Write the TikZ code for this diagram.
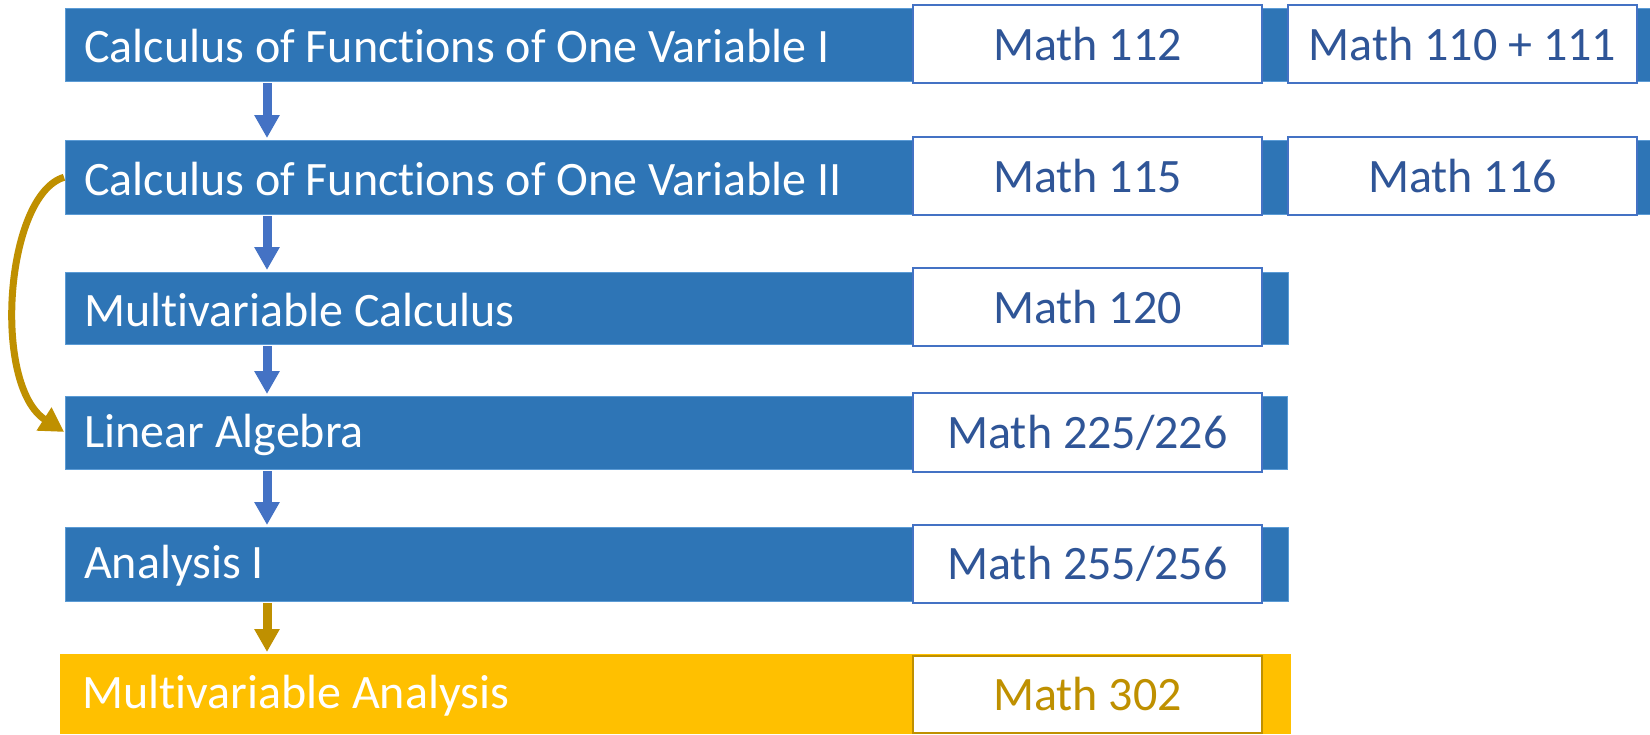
\documentclass[tikz,border=0pt]{standalone}
\usepackage{fontspec}
\setmainfont[Ligatures={NoCommon}]{Carlito}
\usetikzlibrary{arrows.meta,calc}
\definecolor{barblue}{HTML}{2E75B6}
\definecolor{baredge}{HTML}{5B9BD5}
\definecolor{boxblue}{HTML}{4472C4}
\definecolor{textblue}{HTML}{2F5597}
\definecolor{goldc}{HTML}{BF9000}
\definecolor{yellowc}{HTML}{FFC000}
\tikzset{
  bar/.style={fill=barblue, draw=baredge, line width=0.8pt, anchor=north west, inner sep=0pt, outer sep=0pt},
  ybar/.style={fill=yellowc, draw=none, anchor=north west, inner sep=0pt, outer sep=0pt},
  bartext/.style={anchor=west, inner sep=0pt, text=white, yshift=-2pt, font=\fontsize{48}{58}\selectfont},
  mathbox/.style={fill=white, draw=boxblue, line width=2.5pt, anchor=north west, inner sep=0pt, outer sep=0pt,
    minimum width=349pt, text=textblue, font=\fontsize{48}{58}\selectfont},
  goldbox/.style={mathbox, draw=goldc, text=goldc},
  downarrow/.style={draw=boxblue, line width=9pt, -{Triangle[width=24pt,length=23pt]}, shorten <=2pt, shorten >=2pt},
  goldarrow/.style={downarrow, draw=goldc, fill=goldc},
  curvearrow/.style={draw=goldc, line width=7pt, -{Triangle[width=26pt,length=24pt]}, shorten <=1pt, shorten >=1pt}
}
\begin{document}
\begin{tikzpicture}[x=1pt,y=-1pt]
\useasboundingbox (0,0) rectangle (1650,734);
% bars
\node[bar, minimum width=1585pt, minimum height=73pt] (b1) at (65,8) {};
\node[bar, minimum width=1585pt, minimum height=74pt] (b2) at (65,140) {};
\node[bar, minimum width=1223pt, minimum height=72pt] (b3) at (65,272) {};
\node[bar, minimum width=1222pt, minimum height=73pt] (b4) at (65,396) {};
\node[bar, minimum width=1223pt, minimum height=74pt] (b5) at (65,527) {};
\node[ybar, minimum width=1231pt, minimum height=80pt] (b6) at (60,654) {};
% bar texts
\node[bartext] (t1) at ([xshift=19pt]b1.west) {Calculus of Functions of One Variable I};
\node[bartext] (t2) at ([xshift=19pt]b2.west) {Calculus of Functions of One Variable II};
\node[bartext] (t3) at ([xshift=19pt]b3.west) {Multivariable Calculus};
\node[bartext] (t4) at ([xshift=19pt]b4.west) {Linear Algebra};
\node[bartext] (t5) at ([xshift=19pt]b5.west) {Analysis I};
\node[bartext] (t6) at ([xshift=22pt]b6.west) {Multivariable Analysis};
% course boxes
\node[mathbox, minimum height=78pt] (m1) at (913,5) {\raisebox{-2pt}{Math 112}};
\node[mathbox, minimum height=78pt] (m1b) at (1288,5) {\raisebox{-2pt}{Math 110 + 111}};
\node[mathbox, minimum height=78pt] (m2) at (913,137) {\raisebox{-2pt}{Math 115}};
\node[mathbox, minimum height=78pt] (m2b) at (1288,137) {\raisebox{-2pt}{Math 116}};
\node[mathbox, minimum height=78pt] (m3) at (913,268) {\raisebox{-2pt}{Math 120}};
\node[mathbox, minimum height=79pt] (m4) at (913,393) {\raisebox{-2pt}{Math 225/226}};
\node[mathbox, minimum height=78pt] (m5) at (913,525) {\raisebox{-2pt}{Math 255/256}};
\node[goldbox, minimum height=77pt] (m6) at (913,656) {\raisebox{-2pt}{Math 302}};
% arrows
\coordinate (ax) at (267,0);
\draw[downarrow] (ax |- b1.south) -- (ax |- b2.north);
\draw[downarrow] (ax |- b2.south) -- (ax |- b3.north);
\draw[downarrow] (ax |- b3.south) -- (ax |- b4.north);
\draw[downarrow] (ax |- b4.south) -- (ax |- b5.north);
\draw[goldarrow] (ax |- b5.south) -- (ax |- b6.north);
\draw[curvearrow] (b2.west) .. controls +(-60,18) and +(-73,-47) .. (b4.west);
\end{tikzpicture}
\end{document}
